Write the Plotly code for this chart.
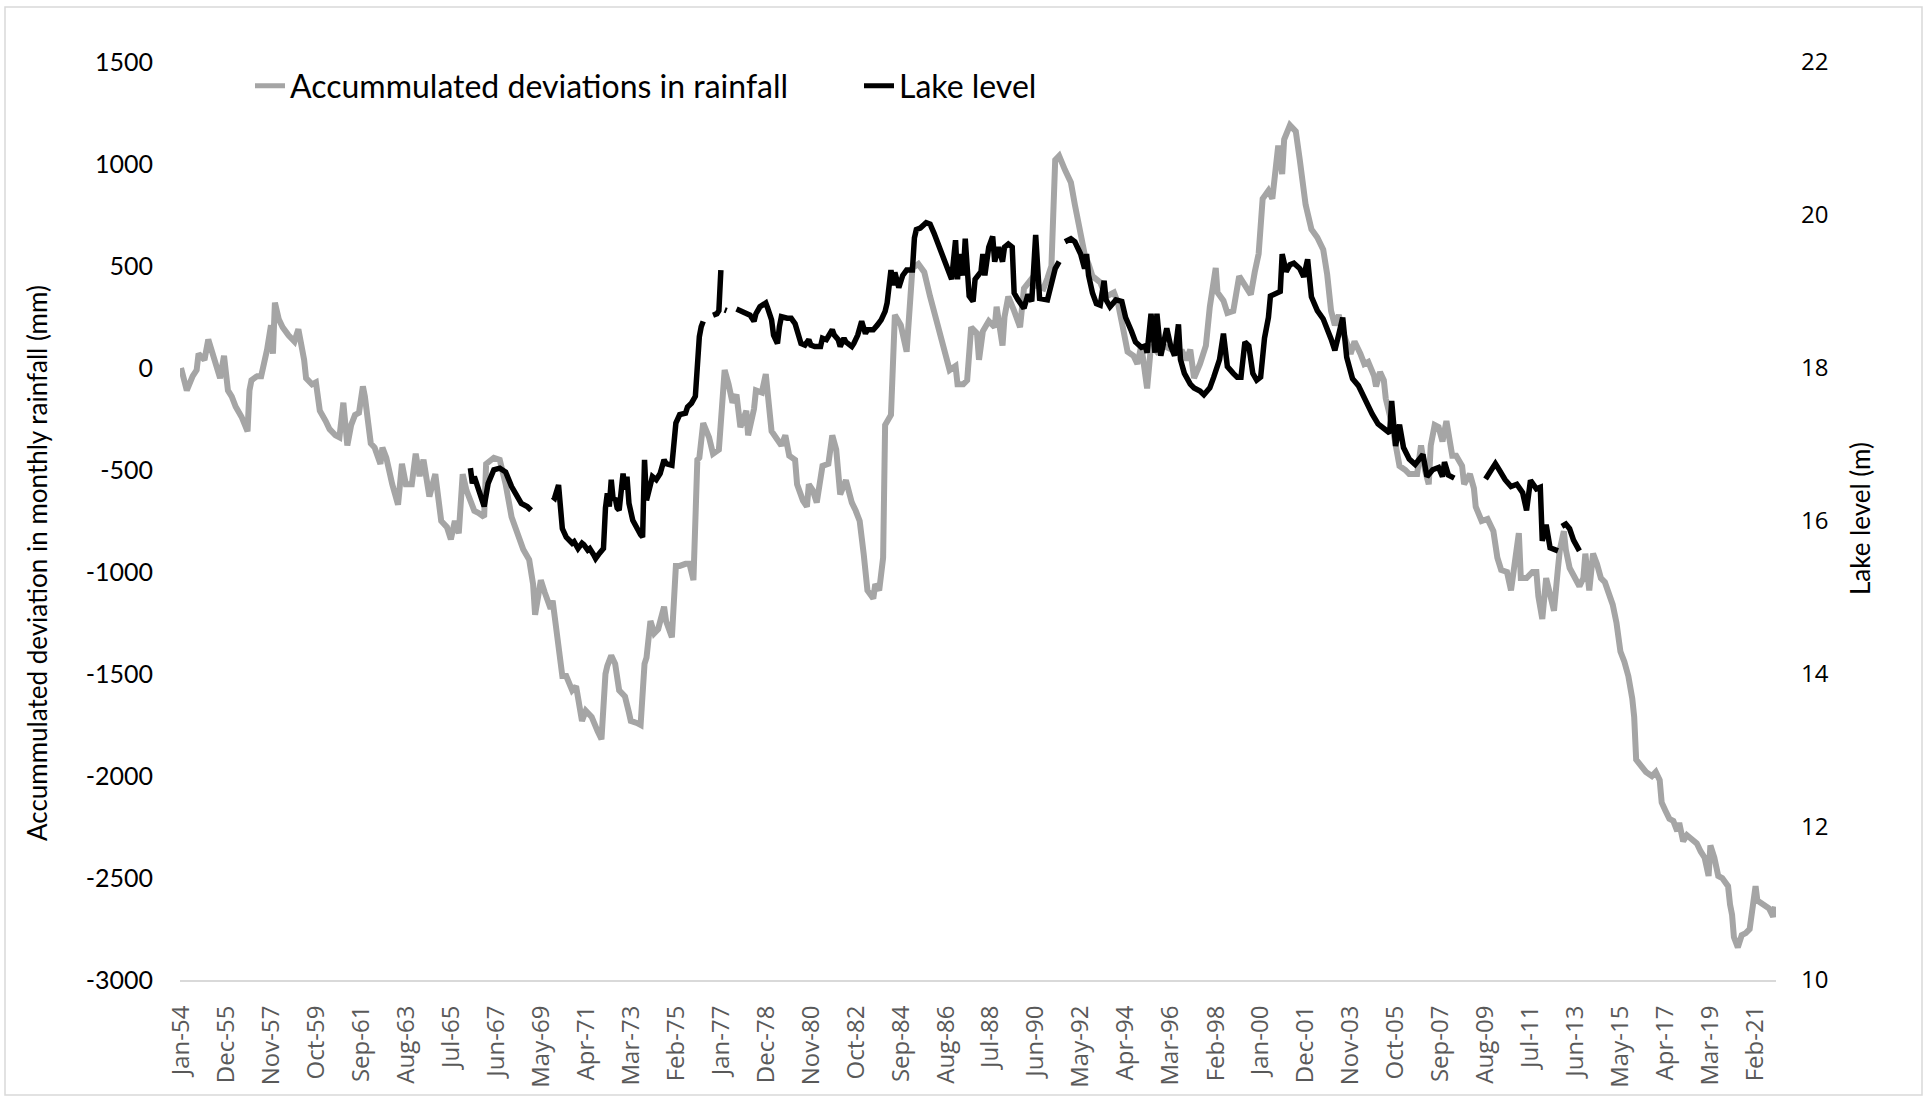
import plotly.graph_objects as go

# ---------------- data ----------------
rain_dates = [
    "1954-01","1954-04","1954-07","1954-09","1954-10","1955-01","1955-03","1955-05","1955-07","1955-09",
    "1955-11","1956-01","1956-03","1956-05","1956-08","1956-11","1956-12","1957-01","1957-04","1957-06",
    "1957-09","1957-11","1957-12","1958-01","1958-03","1958-05","1958-08","1958-11","1959-01","1959-04",
    "1959-05","1959-08","1959-10","1959-12","1960-03","1960-05","1960-08","1960-10","1960-12","1961-02",
    "1961-04","1961-06","1961-08","1961-10","1961-11","1962-02","1962-04","1962-07","1962-08","1962-10",
    "1963-01","1963-04","1963-06","1963-08","1963-11","1964-01","1964-03","1964-05","1964-08","1964-11",
    "1965-02","1965-05","1965-07","1965-09","1965-11","1966-01","1966-03","1966-07","1966-09","1966-12",
    "1967-01","1967-05","1967-08","1967-11","1968-02","1968-04","1968-06","1968-08","1968-11","1969-01",
    "1969-02","1969-05","1969-07","1969-10","1969-11","1970-02","1970-04","1970-06","1970-09","1970-11",
    "1971-02","1971-04","1971-07","1971-10","1971-12","1972-02","1972-03","1972-05","1972-07","1972-09",
    "1972-12","1973-02","1973-03","1973-06","1973-08","1973-10","1973-11","1974-01","1974-03","1974-05",
    "1974-08","1974-09","1974-12","1975-02","1975-04","1975-07","1975-09","1975-11","1976-01","1976-02",
    "1976-04","1976-07","1976-09","1976-12","1977-03","1977-05","1977-07","1977-09","1977-11","1978-02",
    "1978-03","1978-06","1978-07","1978-10","1978-12","1979-03","1979-06","1979-08","1979-10","1979-12",
    "1980-03","1980-04","1980-07","1980-09","1980-10","1980-12","1981-02","1981-05","1981-08","1981-10",
    "1981-12","1982-02","1982-05","1982-08","1982-10","1982-12","1983-02","1983-04","1983-07","1983-08",
    "1983-10","1983-12","1984-01","1984-04","1984-06","1984-09","1984-12","1985-03","1985-06","1985-09",
    "1985-12","1986-04","1986-07","1986-10","1987-01","1987-02","1987-05","1987-07","1987-09","1987-12",
    "1988-01","1988-03","1988-06","1988-09","1988-10","1989-01","1989-02","1989-04","1989-07","1989-10",
    "1989-12","1990-02","1990-05","1990-07","1990-10","1990-12","1991-02","1991-04","1991-06","1991-09",
    "1991-12","1992-02","1992-05","1992-07","1992-09","1992-11","1993-03","1993-06","1993-10","1993-12",
    "1994-03","1994-05","1994-08","1994-10","1994-12","1995-03","1995-05","1995-08","1995-11","1996-03",
    "1996-06","1996-09","1996-11","1997-01","1997-03","1997-06","1997-09","1997-11","1998-02","1998-03",
    "1998-06","1998-08","1998-11","1999-02","1999-04","1999-08","1999-10","1999-12","2000-02","2000-05",
    "2000-07","2000-10","2000-12","2001-01","2001-04","2001-07","2001-09","2001-12","2002-03","2002-06",
    "2002-09","2002-11","2003-01","2003-03","2003-05","2003-07","2003-11","2004-01","2004-04","2004-06",
    "2004-08","2004-11","2004-12","2005-02","2005-04","2005-05","2005-08","2005-11","2005-12","2006-03",
    "2006-05","2006-09","2006-11","2007-01","2007-03","2007-04","2007-06","2007-08","2007-10","2007-12",
    "2008-02","2008-03","2008-05","2008-08","2008-09","2008-12","2009-02","2009-03","2009-06","2009-09",
    "2009-12","2010-02","2010-04","2010-07","2010-09","2010-11","2011-01","2011-02","2011-05","2011-08",
    "2011-10","2011-11","2012-01","2012-03","2012-05","2012-07","2012-09","2012-10","2012-12","2013-01",
    "2013-03","2013-06","2013-08","2013-10","2013-11","2014-01","2014-03","2014-05","2014-07","2014-09",
    "2014-12","2015-01","2015-03","2015-05","2015-07","2015-09","2015-11","2015-12","2016-01","2016-04",
    "2016-06","2016-09","2016-11","2017-01","2017-02","2017-04","2017-06","2017-08","2017-10","2017-11",
    "2018-01","2018-03","2018-05","2018-08","2018-10","2018-12","2019-02","2019-03","2019-05","2019-07",
    "2019-09","2019-12","2020-01","2020-02","2020-03","2020-05","2020-07","2020-09","2020-11","2021-01",
    "2021-02","2021-03","2021-06","2021-09","2021-11","2021-12",
]
rain_values = [
    0,-110,-40,-10,70,40,140,70,20,-50,
    60,-110,-140,-190,-240,-310,-110,-60,-40,-40,
    90,210,70,320,240,200,160,130,190,40,
    -50,-80,-70,-210,-260,-300,-330,-340,-170,-380,
    -280,-230,-220,-90,-140,-370,-390,-470,-390,-440,
    -570,-670,-470,-570,-570,-420,-530,-450,-630,-520,
    -750,-780,-840,-750,-810,-520,-600,-700,-710,-730,
    -470,-440,-450,-570,-730,-780,-840,-890,-940,-1060,
    -1210,-1040,-1100,-1180,-1140,-1380,-1510,-1510,-1580,-1560,
    -1730,-1680,-1710,-1780,-1820,-1500,-1460,-1410,-1450,-1580,
    -1610,-1690,-1730,-1740,-1750,-1450,-1420,-1240,-1300,-1280,
    -1170,-1240,-1320,-970,-970,-960,-960,-1040,-450,-440,
    -270,-340,-420,-400,-10,-80,-170,-130,-290,-210,
    -330,-200,-110,-120,-30,-310,-350,-380,-330,-430,
    -450,-570,-650,-680,-570,-600,-660,-480,-470,-330,
    -400,-620,-550,-660,-700,-750,-910,-1090,-1130,-1060,
    -1090,-930,-280,-230,260,210,80,490,510,470,
    350,210,110,-10,10,-80,-80,-60,200,170,
    40,180,230,200,300,110,250,350,280,200,
    390,420,450,400,390,440,500,1020,1040,970,
    910,800,640,560,510,450,420,350,370,320,
    180,80,60,20,110,-100,110,80,110,90,
    80,80,40,90,-50,20,110,300,490,370,
    330,270,280,450,420,360,470,560,830,870,
    830,1090,950,1120,1190,1160,1020,800,680,640,
    580,460,280,210,260,180,70,130,70,20,
    30,-40,-90,-20,-60,-150,-270,-410,-480,-500,
    -520,-520,-380,-500,-570,-380,-280,-290,-360,-260,
    -360,-430,-430,-480,-570,-520,-590,-680,-750,-740,
    -800,-930,-990,-1000,-1090,-930,-810,-1030,-1030,-1000,
    -1000,-1120,-1230,-1030,-1120,-1190,-980,-890,-800,-890,
    -980,-1030,-1070,-1030,-910,-1090,-910,-960,-1030,-1050,
    -1140,-1160,-1250,-1390,-1440,-1510,-1620,-1710,-1920,-1960,
    -1980,-2000,-1980,-2020,-2130,-2170,-2210,-2220,-2270,-2230,
    -2320,-2290,-2310,-2330,-2370,-2400,-2490,-2340,-2400,-2490,
    -2500,-2540,-2630,-2680,-2790,-2840,-2780,-2770,-2750,-2630,
    -2540,-2610,-2630,-2650,-2690,-2640,
]

# Lake level (m); None marks a gap in the record
lake_dates = [
    "1966-05","1966-06","1966-07","1966-09","1966-12","1967-02","1967-05","1967-08","1967-11","1968-02",
    "1968-05","1968-07","1968-10","1968-12","1969-06",
    "1969-11","1969-12","1970-02","1970-03","1970-04","1970-06","1970-09","1970-10","1970-12","1971-02",
    "1971-03","1971-05","1971-06","1971-08","1971-09","1971-11","1972-01","1972-02","1972-03","1972-04",
    "1972-05","1972-06","1972-07","1972-08","1972-09","1972-11","1972-12","1973-01","1973-02","1973-04",
    "1973-06","1973-08","1973-09","1973-10","1973-11","1974-01","1974-02","1974-04","1974-06","1974-08",
    "1974-09","1974-12","1975-01","1975-02","1975-04","1975-07","1975-08","1975-10","1975-12","1976-01",
    "1976-02","1976-03","1976-04","1976-06",
    "1976-09","1976-11","1976-12","1977-01","1977-02",
    "1977-03","1977-04","1977-06",
    "1977-09","1977-12","1978-02","1978-04","1978-06","1978-07","1978-09","1978-12","1979-01","1979-03",
    "1979-04","1979-06","1979-07","1979-08","1979-11","1980-01","1980-03","1980-05","1980-06","1980-08",
    "1980-10","1980-11","1981-01","1981-04","1981-05","1981-07","1981-10","1981-11","1982-01","1982-02",
    "1982-04","1982-05","1982-08","1982-09","1982-11","1983-01","1983-03","1983-04","1983-07","1983-09",
    "1983-11","1984-01","1984-02","1984-04","1984-05","1984-06","1984-08","1984-10","1984-12","1985-03",
    "1985-04","1985-05","1985-07","1985-10","1985-12","1986-02","1986-04","1986-06","1986-09","1986-11",
    "1987-01","1987-02","1987-03","1987-05","1987-06","1987-08","1987-10","1987-11","1988-02","1988-03",
    "1988-04","1988-06","1988-08","1988-09","1988-11","1989-01","1989-02","1989-04","1989-06","1989-07",
    "1989-09","1989-12","1990-02","1990-04","1990-06","1990-07","1990-08","1990-12","1991-02","1991-04",
    "1991-06","1991-07",
    "1991-09","1991-12","1992-02","1992-05","1992-07","1992-08","1992-09","1992-11","1993-01","1993-03",
    "1993-05","1993-06","1993-08","1993-11","1994-02","1994-04","1994-07","1994-09","1994-12","1995-02",
    "1995-03","1995-05","1995-07","1995-08","1995-10","1995-12","1996-01","1996-03","1996-05","1996-07",
    "1996-08","1996-10","1997-01","1997-03","1997-06","1997-08","1997-11","1998-01","1998-04","1998-06",
    "1998-08","1998-11","1999-01","1999-03","1999-05","1999-07","1999-09","1999-11","2000-01","2000-03",
    "2000-05","2000-06","2000-09","2000-11","2000-12","2001-02","2001-04","2001-06","2001-09","2001-11",
    "2002-01","2002-03","2002-06","2002-09","2003-01","2003-03","2003-05","2003-07","2003-09","2003-12",
    "2004-03","2004-06","2004-10","2005-01","2005-05","2005-07","2005-08","2005-10","2005-12","2006-02",
    "2006-05","2006-08","2006-12","2007-02","2007-05","2007-08","2007-10","2007-11","2008-01","2008-04",
    "2008-12",
    "2009-08","2009-11","2010-01","2010-03","2010-06","2010-09","2010-12","2011-03","2011-05","2011-07",
    "2011-10","2011-12","2012-01","2012-03","2012-05","2012-09","2012-10",
    "2012-11","2013-01","2013-03","2013-05","2013-08",
]
lake_values = [
    16.69,16.49,16.58,16.41,16.19,16.49,16.67,16.69,16.64,16.45,
    16.30,16.23,16.19,16.14,None,
    16.32,16.30,16.47,16.23,15.90,15.79,15.71,15.73,15.64,15.71,
    15.69,15.62,15.64,15.56,15.51,15.58,15.64,16.17,16.36,16.19,
    16.54,16.27,16.30,16.17,16.14,16.62,16.41,16.58,16.23,16.01,
    15.90,15.82,15.79,16.80,16.27,16.45,16.58,16.54,16.62,16.80,
    16.75,16.73,17.06,17.28,17.39,17.41,17.49,17.54,17.63,18.06,
    18.41,18.54,18.61,None,
    18.69,18.71,18.75,19.28,None,
    18.76,18.75,None,
    18.77,18.74,18.71,18.69,18.61,18.71,18.80,18.85,18.78,18.63,
    18.43,18.32,18.54,18.67,18.65,18.65,18.58,18.43,18.32,18.30,
    18.37,18.30,18.28,18.28,18.39,18.37,18.50,18.43,18.37,18.28,
    18.39,18.34,18.28,18.32,18.43,18.61,18.45,18.50,18.50,18.56,
    18.63,18.74,18.85,19.28,19.08,19.25,19.05,19.21,19.28,19.28,
    19.70,19.81,19.83,19.90,19.88,19.76,19.62,19.49,19.30,19.16,
    19.67,19.16,19.49,19.21,19.69,18.94,18.87,19.16,19.26,19.49,
    19.21,19.58,19.72,19.39,19.58,19.39,19.58,19.62,19.58,18.98,
    18.89,18.78,18.96,18.87,19.74,19.39,18.91,18.89,19.12,19.30,
    19.39,None,
    19.65,19.69,19.65,19.49,19.30,19.49,19.21,18.98,18.84,18.82,
    19.14,18.89,18.80,18.89,18.87,18.66,18.48,18.34,18.27,18.29,
    18.20,18.71,18.20,18.71,18.16,18.39,18.52,18.29,18.16,18.57,
    18.11,17.93,17.79,17.74,17.70,17.65,17.74,17.88,18.11,18.45,
    18.02,17.93,17.88,17.88,18.34,18.29,17.93,17.84,17.88,18.39,
    18.66,18.94,18.98,19.00,19.49,19.26,19.35,19.37,19.30,19.19,
    19.42,18.93,18.75,18.64,18.38,18.23,18.44,18.66,18.14,17.86,
    17.77,17.60,17.40,17.27,17.18,17.15,17.57,16.98,17.26,16.96,
    16.81,16.74,16.87,16.58,16.67,16.70,16.58,16.77,16.60,16.56,
    None,
    16.55,16.67,16.75,16.67,16.54,16.45,16.48,16.37,16.14,16.53,
    16.42,16.44,15.74,15.95,15.65,15.61,None,
    15.93,15.96,15.90,15.75,15.61,
]

x_tick_labels = [
    "Jan-54","Dec-55","Nov-57","Oct-59","Sep-61","Aug-63","Jul-65","Jun-67","May-69","Apr-71",
    "Mar-73","Feb-75","Jan-77","Dec-78","Nov-80","Oct-82","Sep-84","Aug-86","Jul-88","Jun-90",
    "May-92","Apr-94","Mar-96","Feb-98","Jan-00","Dec-01","Nov-03","Oct-05","Sep-07","Aug-09",
    "Jul-11","Jun-13","May-15","Apr-17","Mar-19","Feb-21",
]
left_ticks = [-3000, -2500, -2000, -1500, -1000, -500, 0, 500, 1000, 1500]
right_ticks = [10, 12, 14, 16, 18, 20, 22]

MONTHS = ["Jan","Feb","Mar","Apr","May","Jun","Jul","Aug","Sep","Oct","Nov","Dec"]
def label_to_date(lbl):
    mon, yy = lbl.split("-")
    yy = int(yy)
    year = 1900 + yy if yy >= 30 else 2000 + yy
    return f"{year}-{MONTHS.index(mon)+1:02d}-01"
x_tick_vals = [label_to_date(l) for l in x_tick_labels]

# ---------------- figure ----------------
W, H = 1927, 1101
L, R, T, B = 180, 151, 62, 121
pw, ph = W - L - R, H - T - B

def px(x):  # pixel -> paper x
    return (x - L) / pw
def py(y):  # pixel -> paper y
    return (H - B - y) / ph

narrow = "Lato, Carlito, Calibri, sans-serif"

fig = go.Figure()
fig.add_trace(go.Scatter(
    x=rain_dates, y=rain_values, mode="lines",
    name="Accummulated deviations in rainfall",
    line=dict(color="#A5A5A5", width=6),
    yaxis="y",
))
fig.add_trace(go.Scatter(
    x=lake_dates, y=lake_values, mode="lines",
    name="Lake level", connectgaps=False,
    line=dict(color="#000000", width=5.5),
    yaxis="y2",
))

fig.update_layout(
    width=W, height=H,
    margin=dict(l=L, r=R, t=T, b=B, pad=0),
    paper_bgcolor="white", plot_bgcolor="white",
    showlegend=True,
    legend=dict(
        orientation="h", x=px(250), y=py(86), xanchor="left", yanchor="middle",
        font=dict(family=narrow, size=32, color="#000000"),
        bgcolor="rgba(0,0,0,0)", entrywidth=564, entrywidthmode="pixels",
        itemsizing="constant",
    ),
    xaxis=dict(
        type="date", range=["1953-12-16", "2021-12-16"],
        tickmode="array", tickvals=x_tick_vals, ticktext=x_tick_labels,
        tickangle=-90, tickfont=dict(family="Open Sans", size=24, color="#595959"),
        showgrid=False, zeroline=False, showline=True, linecolor="#D9D9D9", linewidth=2,
        ticks="", ticklabelstandoff=14,
    ),
    yaxis=dict(
        range=[-3000, 1500], tickmode="array", tickvals=left_ticks,
        ticktext=[str(v) for v in left_ticks],
        tickfont=dict(family=narrow, size=25, color="#000000"),
        showgrid=False, zeroline=False, showline=False, ticks="",
        ticklabelstandoff=26,
    ),
    yaxis2=dict(
        range=[10, 22], tickmode="array", tickvals=right_ticks,
        ticktext=[str(v) for v in right_ticks],
        overlaying="y", side="right",
        tickfont=dict(family="Open Sans", size=24, color="#000000"),
        showgrid=False, zeroline=False, showline=False, ticks="",
        ticklabelstandoff=24,
    ),
    annotations=[
        dict(text="Accummulated deviation in monthly rainfall (mm)", textangle=-90,
             xref="paper", yref="paper", x=px(37), y=py(563), showarrow=False,
             xanchor="center", yanchor="middle",
             font=dict(family=narrow, size=26, color="#000000")),
        dict(text="Lake level (m)", textangle=-90,
             xref="paper", yref="paper", x=px(1860), y=py(519), showarrow=False,
             xanchor="center", yanchor="middle",
             font=dict(family=narrow, size=26, color="#000000")),
    ],
    shapes=[
        dict(type="rect", xref="paper", yref="paper",
             x0=px(5), x1=px(1922), y0=py(1095), y1=py(7),
             line=dict(color="#D9D9D9", width=1.5), fillcolor="rgba(0,0,0,0)", layer="below"),
    ],
)

fig.write_html(
    "out.html",
    config={"displayModeBar": False},
    post_script="document.body.style.margin='0';document.body.style.overflow='hidden';",
)
